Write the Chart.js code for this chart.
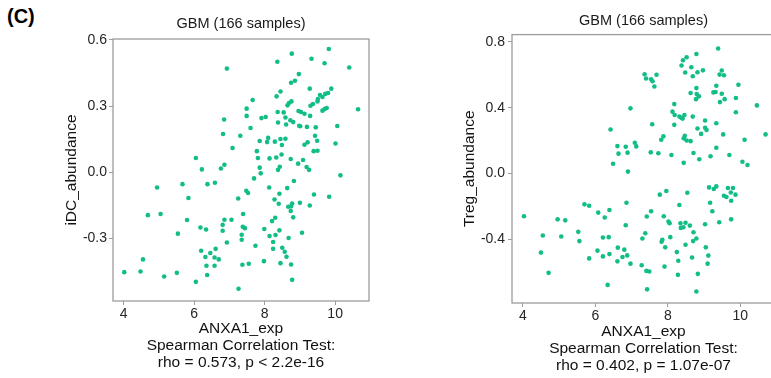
<!DOCTYPE html>
<html>
<head>
<meta charset="utf-8">
<script src="https://cdn.jsdelivr.net/npm/chart.js@4/dist/chart.umd.min.js"></script>
<style>
  body { margin: 0; background: #fff; overflow: hidden; width: 771px; height: 378px; position: relative; }
  canvas { position: absolute; top: 0; }
  #leftChart { left: 0; }
  #rightChart { left: 390px; }
  #panelTag { position: absolute; left: 7px; top: 5px; font: bold 20px "Liberation Sans", Arial, sans-serif; color: #000; }
</style>
</head>
<body>
<div id="panelTag">(C)</div>
<canvas id="leftChart" width="390" height="378"></canvas>
<canvas id="rightChart" width="390" height="378"></canvas>
<script>
// ---- data ----
const xTicks = [4, 6, 8, 10];
const idcTicks = [-0.3, 0.0, 0.3, 0.6];
const tregTicks = [-0.4, 0.0, 0.4, 0.8];

const idcExp = [6.93,6.85,6.82,7.31,7.09,
  9.82,8.77,8.36,9.33,9.70,10.40,8.97,8.86,8.75,9.28,9.89,8.45,9.80,9.72,9.57,8.34,9.64,9.51,9.50,7.66,
  8.76,8.69,8.65,9.37,9.30,7.49,10.65,9.76,9.70,9.64,8.37,8.54,8.96,9.03,9.13,9.29,7.49,7.91,8.03,8.59,
  8.38,8.73,8.81,8.61,8.98,9.20,9.45,10.06,7.60,9.01,7.86,8.10,8.07,8.29,8.45,8.59,8.49,9.43,9.49,9.13,9.22,10.01,
  7.78,7.81,8.14,8.33,8.48,8.74,9.09,8.95,9.39,9.50,7.86,7.89,8.43,8.38,9.19,9.26,7.70,10.15,8.83,8.13,
  8.64,7.48,7.53,8.42,9.40,9.83,7.25,8.28,8.40,8.78,9.00,9.28,8.67,8.75,8.74,7.39,8.81,8.30,8.21,7.06,
  7.38,7.44,7.99,8.42,9.06,7.35,7.35,8.14,8.31,8.68,8.24,7.74,8.24,8.50,8.57,8.62,7.98,7.37,7.55,8.45,8.75,8.78,
  4.02,4.48,5.15,5.51,6.05,6.35,6.58,6.37,7.26,4.55,6.70,
  6.05,6.22,6.76,6.86,4.95,5.67,6.38,6.59,5.84,4.69,5.05,5.80,6.86,6.81,6.18,6.34,6.81,5.54,6.93,6.20,6.46,6.61,6.32,6.58];
const idcAbundance = [0.47,0.239,0.173,0.165,0.109,
  0.559,0.538,0.501,0.515,0.494,0.475,0.445,0.415,0.406,0.379,0.379,0.366,0.359,0.355,0.35,0.344,0.341,0.332,0.321,0.327,
  0.321,0.314,0.303,0.309,0.301,0.288,0.285,0.291,0.286,0.279,0.273,0.271,0.277,0.273,0.265,0.255,0.255,0.245,0.25,0.248,
  0.225,0.235,0.227,0.216,0.21,0.205,0.203,0.209,0.2,0.208,0.141,0.155,0.136,0.138,0.15,0.151,0.123,0.165,0.142,0.124,0.135,0.13,
  0.095,0.064,0.062,0.066,0.08,0.059,0.055,0.038,0.095,0.097,0.02,-0.006,0.024,0.01,0.023,0.01,-0.029,-0.015,-0.041,-0.07,
  -0.073,-0.085,-0.095,-0.099,-0.102,-0.112,-0.12,-0.125,-0.144,-0.143,-0.14,-0.152,-0.158,-0.156,-0.177,-0.191,-0.206,-0.208,-0.223,-0.217,
  -0.249,-0.255,-0.259,-0.265,-0.276,-0.285,-0.308,-0.291,-0.286,-0.3,-0.318,-0.335,-0.349,-0.344,-0.362,-0.385,-0.405,-0.421,-0.417,-0.414,-0.42,-0.49,
  -0.455,-0.452,-0.475,-0.458,-0.499,-0.426,-0.426,-0.468,-0.53,-0.397,-0.397,
  0.064,0.012,0.016,0.033,-0.07,-0.055,-0.055,-0.049,-0.118,-0.196,-0.191,-0.218,-0.217,-0.24,-0.252,-0.261,-0.267,-0.28,-0.32,-0.358,-0.368,-0.349,-0.386,-0.388];

const tregExp = [6.42,6.61,6.84,
  9.39,8.79,8.52,8.42,8.38,8.65,8.48,8.82,8.97,8.69,
  9.49,9.43,9.55,7.36,7.40,7.69,7.54,7.58,7.63,9.95,
  8.79,9.34,8.63,8.80,8.86,8.78,9.26,9.32,9.49,9.88,
  9.57,9.44,10.46,9.88,6.97,8.18,8.13,8.19,8.32,8.38,
  8.46,8.41,8.69,9.03,9.34,7.57,8.18,8.82,9.03,9.07,
  8.92,9.53,10.70,7.88,7.82,8.47,8.44,8.52,8.63,10.12,
  7.09,7.13,9.34,
  6.89,7.53,7.74,8.10,8.71,8.87,9.18,9.70,10.06,10.20,
  8.44,6.90,
  9.14,9.27,9.34,9.66,9.80,9.55,9.62,9.87,9.74,9.75,
  7.96,7.78,8.54,6.86,9.17,8.32,9.23,7.54,7.42,7.89,9.75,9.42,
  8.02,8.05,8.35,8.49,8.36,8.43,8.61,9.03,6.84,
  7.38,7.30,8.71,8.79,8.70,8.07,7.85,7.83,7.93,8.49,9.05,8.25,6.80,
  6.75,6.88,9.12,8.67,8.29,9.10,6.97,7.28,7.91,7.41,7.49,8.28,8.83,7.43,8.79,
  6.64,6.49,4.03,5.70,5.83,6.08,6.39,6.26,4.96,5.17,5.53,4.55,5.06,5.56,6.21,6.37,4.50,6.06,5.83,6.21,6.39,6.62,6.61,4.71,6.34];
const tregAbundance = [0.268,0.167,0.163,
  0.76,0.726,0.706,0.688,0.656,0.646,0.614,0.615,0.627,0.591,
  0.626,0.601,0.597,0.603,0.577,0.6,0.573,0.561,0.529,0.539,
  0.519,0.533,0.489,0.483,0.469,0.452,0.493,0.495,0.485,0.459,
  0.452,0.434,0.414,0.372,0.396,0.422,0.376,0.356,0.346,0.338,
  0.356,0.334,0.346,0.322,0.306,0.3,0.296,0.274,0.278,0.265,
  0.241,0.238,0.238,0.226,0.205,0.229,0.214,0.201,0.197,0.205,
  0.187,0.165,0.157,
  0.127,0.129,0.123,0.113,0.125,0.087,0.105,0.113,0.072,0.052,
  0.065,0.012,
  -0.084,-0.094,-0.078,-0.088,-0.088,-0.135,-0.142,-0.128,-0.115,-0.165,
  -0.106,-0.128,-0.116,-0.177,-0.177,-0.191,-0.229,-0.229,-0.261,-0.259,-0.278,-0.296,
  -0.291,-0.302,-0.302,-0.299,-0.33,-0.326,-0.316,-0.308,-0.314,
  -0.362,-0.394,-0.356,-0.394,-0.41,-0.386,-0.402,-0.414,-0.448,-0.432,-0.448,-0.477,-0.462,
  -0.507,-0.497,-0.498,-0.51,-0.529,-0.547,-0.547,-0.557,-0.565,-0.591,-0.595,-0.615,-0.609,-0.703,-0.716,
  0.121,0.06,-0.259,-0.187,-0.195,-0.237,-0.221,-0.267,-0.278,-0.284,-0.354,-0.376,-0.382,-0.41,-0.388,-0.386,-0.48,-0.468,-0.515,-0.503,-0.489,-0.45,-0.533,-0.603,-0.676];

const FONT = '"Liberation Sans", Arial, sans-serif';
const POINT_COLOR = '#12bd88';
const FRAME_COLOR = '#9c9c9c';

// draws the grey box around the panel
const framePlugin = {
    id: 'frame',
    afterDraw(chart) {
        const a = chart.chartArea, ctx = chart.ctx;
        ctx.save();
        ctx.strokeStyle = FRAME_COLOR;
        ctx.lineWidth = 1.3;
        ctx.strokeRect(a.left, a.top, a.right - a.left, a.bottom - a.top);
        ctx.restore();
    }
};

function makePanel(canvasId, cfg) {
    const points = cfg.xs.map((x, i) => ({ x: x, y: cfg.ys[i] }));
    const ctx = document.getElementById(canvasId).getContext("2d");
    return new Chart(ctx, {
        type: "scatter",
        data: {
            datasets: [{
                data: points,
                backgroundColor: POINT_COLOR,
                borderWidth: 0,
                pointRadius: 2.3
            }]
        },
        options: {
            responsive: false,
            animation: false,
            layout: { padding: cfg.padding },
            plugins: {
                legend: { display: false },
                tooltip: { enabled: false },
                title: {
                    display: true,
                    text: "GBM (166 samples)",
                    fullSize: false,
                    color: "#1a1a1a",
                    font: { family: FONT, size: 14.5, weight: "normal", lineHeight: 1.2 },
                    padding: cfg.titlePad
                }
            },
            scales: {
                x: {
                    type: "linear",
                    min: 3.7, max: 10.96,
                    afterBuildTicks: s => { s.ticks = xTicks.map(v => ({ value: v })); },
                    afterFit: s => { s.height = cfg.xHeight; },
                    ticks: { color: "#262626", padding: 1, font: { family: FONT, size: 14 }, callback: v => String(v) },
                    grid: { drawOnChartArea: false, tickLength: 4, color: FRAME_COLOR },
                    border: { display: false },
                    title: {
                        display: true,
                        text: ["ANXA1_exp", "Spearman Correlation Test:", cfg.stat],
                        color: "#111",
                        padding: 0,
                        font: { family: FONT, size: 15.5, lineHeight: 1.1 }
                    }
                },
                y: {
                    type: "linear",
                    min: cfg.yMin, max: cfg.yMax,
                    afterBuildTicks: s => { s.ticks = cfg.yTicks.map(v => ({ value: v })); },
                    afterFit: s => { s.width = cfg.yWidth; },
                    ticks: { color: "#262626", padding: cfg.yTickPad, font: { family: FONT, size: 14 }, callback: v => v.toFixed(1) },
                    grid: { drawOnChartArea: false, tickLength: 4, color: FRAME_COLOR },
                    border: { display: false },
                    title: {
                        display: true,
                        text: cfg.yLabel,
                        color: "#111",
                        padding: 0,
                        font: { family: FONT, size: 15.5, lineHeight: 1.1 }
                    }
                }
            }
        },
        plugins: [framePlugin]
    });
}

makePanel("leftChart", {
    xs: idcExp, ys: idcAbundance,
    yTicks: idcTicks, yMin: -0.586, yMax: 0.6045,
    yLabel: "iDC_abundance",
    stat: "rho = 0.573, p < 2.2e-16",
    padding: { left: 63, right: 21, top: 0, bottom: 7 },
    titlePad: { top: 15.3, bottom: 6.3 },
    xHeight: 70, yWidth: 50, yTickPad: 2
});

makePanel("rightChart", {
    xs: tregExp, ys: tregAbundance,
    yTicks: tregTicks, yMin: -0.786, yMax: 0.844,
    yLabel: "Treg_abundance",
    stat: "rho = 0.402, p = 1.07e-07",
    padding: { left: 71, right: 5, top: 0, bottom: 3.5 },
    titlePad: { top: 12, bottom: 5.2 },
    xHeight: 71.5, yWidth: 51, yTickPad: 3
});
</script>
</body>
</html>
